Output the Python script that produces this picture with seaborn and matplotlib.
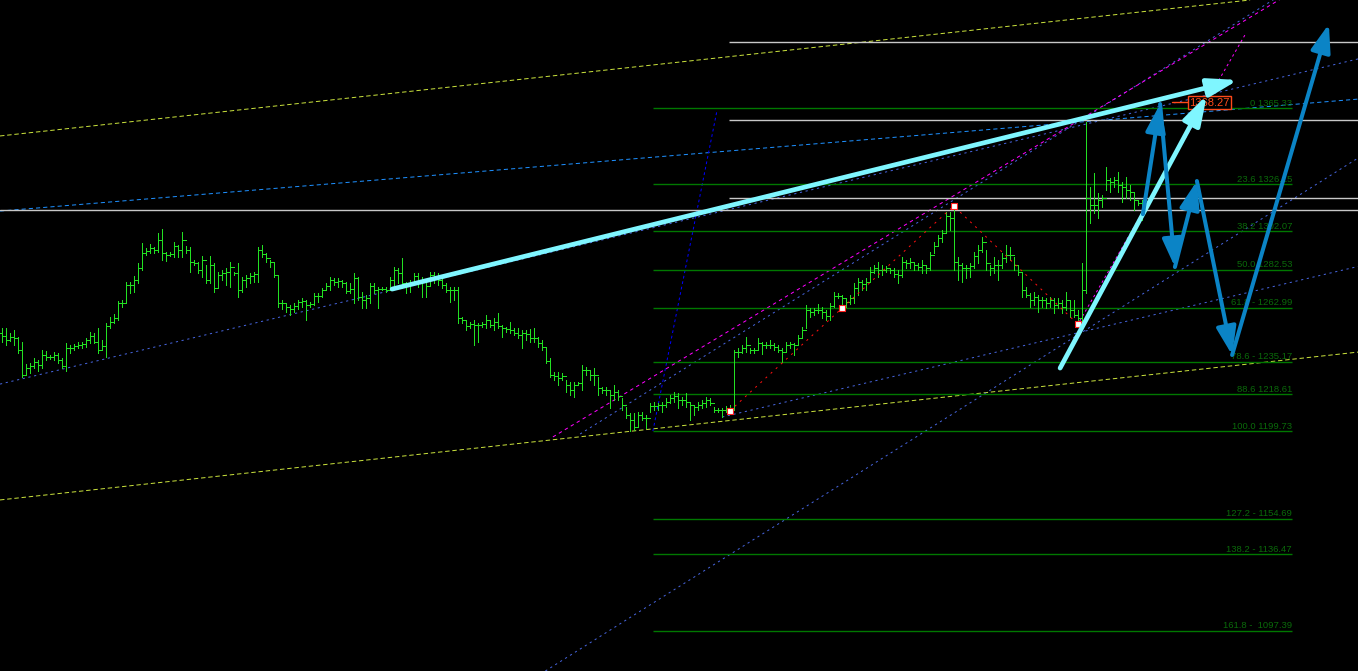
import matplotlib
matplotlib.use("Agg")
import matplotlib.pyplot as plt
import seaborn as sns
import numpy as np
import pandas as pd

# 価格データ (バーごとの高値・安値・終値)
highs = [
    1252.5, 1252.5, 1250.0, 1251.5, 1247.9, 1245.4, 1234.1, 1234.6, 1237.1, 1236.1,
    1241.3, 1240.7, 1238.7, 1240.2, 1239.7, 1237.1, 1244.9, 1243.8, 1244.3, 1245.4,
    1245.4, 1247.4, 1250.5, 1250.0, 1252.5, 1246.4, 1255.1, 1258.2, 1259.7, 1266.4,
    1266.9, 1276.1, 1276.1, 1279.2, 1285.9, 1296.1, 1293.5, 1295.6, 1294.1, 1301.2,
    1303.3, 1291.5, 1291.5, 1296.6, 1295.1, 1301.8, 1294.6, 1294.1, 1287.4, 1286.4,
    1289.4, 1284.8, 1289.4, 1285.9, 1281.2, 1282.3, 1283.3, 1286.4, 1281.2, 1285.9,
    1278.7, 1279.7, 1280.7, 1281.2, 1294.1, 1295.1, 1291.0, 1287.4, 1286.4, 1279.7,
    1266.9, 1265.4, 1264.3, 1265.4, 1266.9, 1267.9, 1266.9, 1265.9, 1270.5, 1270.5,
    1273.1, 1275.6, 1278.7, 1278.2, 1278.2, 1277.1, 1276.1, 1275.6, 1280.7, 1278.7,
    1271.0, 1269.4, 1275.6, 1275.6, 1273.6, 1273.6, 1273.6, 1278.7, 1283.8, 1283.3,
    1288.4, 1276.1, 1277.1, 1280.7, 1280.7, 1278.7, 1275.6, 1281.2, 1281.2, 1280.7,
    1278.7, 1275.6, 1273.6, 1273.6, 1273.6, 1258.2, 1256.6, 1255.6, 1256.6, 1255.1,
    1255.6, 1259.2, 1256.6, 1257.7, 1260.2, 1254.1, 1253.1, 1255.6, 1252.5, 1252.5,
    1251.5, 1251.5, 1252.0, 1252.5, 1247.9, 1246.4, 1242.8, 1237.1, 1230.0, 1230.0,
    1229.5, 1225.9, 1224.9, 1224.9, 1224.9, 1233.6, 1232.5, 1231.0, 1232.0, 1227.4,
    1222.3, 1222.3, 1220.7, 1223.3, 1220.7, 1216.6, 1212.0, 1208.9, 1208.9, 1209.5,
    1209.5, 1207.9, 1214.1, 1214.6, 1214.1, 1214.6, 1216.6, 1218.2, 1219.7, 1219.2,
    1217.1, 1219.2, 1214.6, 1213.1, 1214.6, 1215.6, 1217.1, 1216.6, 1212.0, 1211.5,
    1211.5, 1212.6, 1213.1, 1241.3, 1242.3, 1243.8, 1247.9, 1242.3, 1242.3, 1247.4,
    1245.4, 1245.4, 1246.4, 1244.9, 1243.8, 1242.3, 1245.4, 1245.4, 1244.9, 1248.9,
    1253.1, 1264.3, 1262.8, 1262.8, 1264.9, 1263.3, 1261.8, 1265.4, 1271.0, 1270.5,
    1269.4, 1267.9, 1269.4, 1275.6, 1278.2, 1277.1, 1278.2, 1283.8, 1284.8, 1286.4,
    1284.8, 1284.3, 1283.3, 1283.3, 1282.3, 1288.9, 1287.4, 1288.4, 1286.4, 1285.9,
    1287.4, 1284.8, 1291.5, 1296.6, 1300.2, 1302.8, 1312.0, 1312.0, 1314.6, 1288.9,
    1285.9, 1284.8, 1285.9, 1291.5, 1295.1, 1299.2, 1292.5, 1284.8, 1288.9, 1287.4,
    1291.0, 1295.1, 1294.1, 1288.9, 1284.8, 1280.7, 1273.6, 1270.5, 1271.0, 1269.4,
    1268.4, 1267.9, 1268.4, 1267.9, 1267.9, 1266.9, 1271.0, 1266.9, 1266.9, 1261.8,
    1285.9, 1358.1, 1324.8, 1332.0, 1321.7, 1320.7, 1335.1, 1329.4, 1329.9, 1332.5,
    1327.4, 1329.9, 1325.9, 1322.3, 1318.2, 1318.2,
]
lows = [
    1245.4, 1243.8, 1245.9, 1243.8, 1239.7, 1227.4, 1228.4, 1229.5, 1232.0, 1230.5,
    1232.0, 1236.1, 1236.6, 1236.1, 1234.6, 1232.0, 1230.5, 1239.7, 1241.3, 1242.3,
    1242.3, 1242.8, 1244.9, 1244.9, 1239.7, 1241.3, 1237.7, 1252.5, 1255.1, 1256.6,
    1263.3, 1265.4, 1270.5, 1271.0, 1275.6, 1282.3, 1290.0, 1291.0, 1291.0, 1291.5,
    1287.4, 1286.9, 1289.4, 1288.9, 1288.9, 1288.9, 1291.0, 1281.2, 1284.8, 1280.7,
    1278.7, 1275.6, 1275.6, 1271.0, 1273.1, 1277.1, 1274.6, 1273.6, 1279.7, 1268.4,
    1271.0, 1273.6, 1275.6, 1276.1, 1276.1, 1288.9, 1286.4, 1283.8, 1278.7, 1263.3,
    1262.3, 1260.7, 1259.2, 1260.7, 1262.3, 1263.3, 1256.6, 1263.3, 1264.3, 1265.9,
    1268.4, 1272.0, 1272.0, 1274.6, 1273.6, 1273.6, 1270.5, 1270.5, 1265.4, 1266.9,
    1262.8, 1262.8, 1265.4, 1270.5, 1262.8, 1272.0, 1271.0, 1272.0, 1274.6, 1275.6,
    1273.1, 1270.5, 1271.0, 1275.6, 1273.6, 1268.4, 1268.4, 1274.6, 1275.6, 1274.6,
    1273.1, 1271.0, 1265.9, 1266.9, 1255.1, 1255.1, 1251.5, 1252.5, 1243.8, 1245.4,
    1253.1, 1252.5, 1253.1, 1251.5, 1252.5, 1247.9, 1250.5, 1250.0, 1248.9, 1247.4,
    1242.3, 1246.4, 1245.4, 1245.4, 1242.8, 1241.3, 1234.6, 1227.4, 1225.9, 1223.3,
    1225.9, 1219.7, 1218.2, 1217.1, 1223.3, 1220.7, 1228.4, 1225.9, 1223.3, 1218.2,
    1219.2, 1218.2, 1211.5, 1215.6, 1215.6, 1210.5, 1206.4, 1199.73, 1200.5, 1201.8,
    1205.4, 1201.3, 1209.5, 1210.5, 1210.5, 1209.5, 1212.0, 1214.1, 1214.6, 1211.5,
    1213.1, 1212.0, 1205.4, 1207.9, 1210.5, 1211.5, 1212.0, 1213.1, 1209.5, 1209.5,
    1206.9, 1209.5, 1210.0, 1210.5, 1237.7, 1239.7, 1240.2, 1239.7, 1239.7, 1241.3,
    1239.2, 1242.3, 1242.3, 1241.3, 1240.2, 1235.1, 1240.2, 1242.3, 1238.7, 1243.8,
    1247.9, 1252.5, 1258.2, 1259.2, 1260.2, 1257.7, 1256.6, 1256.6, 1263.3, 1267.9,
    1261.8, 1263.3, 1264.9, 1265.4, 1269.4, 1272.0, 1272.0, 1276.1, 1280.7, 1278.7,
    1279.7, 1281.2, 1280.7, 1278.7, 1275.6, 1278.7, 1283.3, 1283.3, 1282.3, 1282.3,
    1280.7, 1280.7, 1282.3, 1291.0, 1295.1, 1296.6, 1301.8, 1302.8, 1282.3, 1277.1,
    1276.1, 1278.2, 1278.7, 1283.3, 1285.9, 1291.5, 1282.3, 1279.7, 1280.7, 1277.1,
    1283.3, 1286.4, 1287.4, 1282.3, 1279.7, 1268.4, 1268.4, 1263.3, 1264.3, 1260.7,
    1263.3, 1262.8, 1263.3, 1260.2, 1262.8, 1260.2, 1261.8, 1258.2, 1258.2, 1254.6,
    1253.1, 1270.5, 1306.4, 1311.5, 1308.9, 1314.6, 1323.3, 1322.3, 1324.8, 1322.3,
    1317.1, 1319.2, 1318.2, 1313.0, 1315.6, 1307.9,
]
closes = [
    1248.4, 1246.4, 1247.9, 1247.4, 1241.3, 1228.4, 1232.0, 1233.1, 1235.1, 1233.6,
    1238.7, 1237.7, 1237.7, 1238.7, 1236.1, 1233.1, 1242.3, 1242.3, 1243.3, 1243.8,
    1244.3, 1246.4, 1248.4, 1245.4, 1241.3, 1243.3, 1253.6, 1255.6, 1257.7, 1265.4,
    1265.4, 1274.6, 1274.6, 1277.1, 1283.3, 1291.0, 1292.0, 1293.5, 1292.5, 1297.7,
    1291.0, 1290.0, 1290.5, 1294.6, 1292.5, 1297.7, 1292.5, 1286.4, 1285.9, 1282.3,
    1287.4, 1277.1, 1284.8, 1273.1, 1279.7, 1280.7, 1281.2, 1283.8, 1280.7, 1272.0,
    1277.1, 1278.2, 1279.2, 1280.2, 1292.5, 1290.5, 1288.4, 1286.4, 1279.7, 1265.4,
    1265.4, 1263.3, 1262.3, 1263.8, 1265.9, 1266.4, 1264.3, 1264.9, 1268.9, 1268.9,
    1272.0, 1274.1, 1277.1, 1276.1, 1276.6, 1275.6, 1271.5, 1272.5, 1278.2, 1268.4,
    1266.9, 1267.9, 1274.1, 1272.0, 1272.5, 1272.5, 1272.0, 1277.1, 1282.3, 1280.7,
    1275.6, 1274.6, 1275.6, 1279.2, 1275.6, 1276.1, 1274.1, 1279.7, 1278.7, 1277.1,
    1274.6, 1272.0, 1272.0, 1272.0, 1257.7, 1256.6, 1253.6, 1254.6, 1254.1, 1254.1,
    1254.6, 1256.6, 1254.1, 1255.6, 1253.6, 1252.5, 1252.0, 1251.5, 1250.0, 1248.9,
    1250.0, 1249.5, 1247.4, 1247.4, 1244.9, 1242.8, 1235.6, 1228.4, 1227.9, 1226.9,
    1227.9, 1223.3, 1220.7, 1223.3, 1224.3, 1231.0, 1231.0, 1228.4, 1228.4, 1221.8,
    1220.7, 1220.7, 1218.2, 1219.7, 1217.7, 1213.1, 1207.9, 1205.4, 1201.8, 1207.9,
    1206.4, 1206.4, 1212.6, 1212.6, 1213.1, 1213.1, 1214.6, 1216.6, 1217.7, 1215.6,
    1215.6, 1214.6, 1213.1, 1212.0, 1213.1, 1214.1, 1215.6, 1214.1, 1210.5, 1210.5,
    1210.5, 1210.5, 1211.0, 1240.2, 1240.2, 1242.3, 1243.8, 1241.3, 1241.3, 1244.9,
    1243.8, 1243.8, 1243.8, 1242.8, 1241.3, 1240.2, 1243.8, 1244.3, 1243.8, 1247.4,
    1251.5, 1261.8, 1260.7, 1261.8, 1261.8, 1260.7, 1258.7, 1263.8, 1268.9, 1268.9,
    1267.9, 1265.9, 1267.9, 1273.1, 1276.1, 1275.1, 1276.1, 1281.2, 1283.3, 1282.3,
    1282.3, 1283.3, 1282.3, 1280.2, 1279.7, 1286.4, 1285.9, 1286.4, 1284.8, 1283.8,
    1284.8, 1283.3, 1290.0, 1294.6, 1298.7, 1301.2, 1309.9, 1308.9, 1286.4, 1284.8,
    1283.3, 1283.3, 1284.3, 1289.4, 1292.5, 1296.6, 1285.9, 1283.3, 1284.8, 1284.8,
    1288.4, 1290.0, 1290.0, 1284.8, 1281.2, 1272.0, 1269.4, 1266.9, 1268.4, 1266.9,
    1266.9, 1265.4, 1266.9, 1264.3, 1265.4, 1263.3, 1266.9, 1261.8, 1259.2, 1257.7,
    1272.0, 1319.2, 1315.6, 1315.6, 1318.2, 1319.2, 1328.4, 1327.4, 1328.4, 1325.9,
    1324.8, 1323.3, 1322.3, 1318.2, 1316.6, 1313.0,
]
first_open = 1250.0

# フィボナッチ
fib_prices = [1365.33, 1326.15, 1302.07, 1282.53, 1262.99, 1235.17,
              1218.61, 1199.73, 1154.69, 1136.47, 1097.39]
fib_labels = ["0 1365.33", "23.6 1326.15", "38.2 1302.07", "50.0 1282.53",
              "61.8 - 1262.99", "78.6 - 1235.17", "88.6 1218.61", "100.0 1199.73",
              "127.2 - 1154.69", "138.2 - 1136.47", "161.8 -  1097.39"]
fib_from, fib_to = 162.8, 322.6

# 水平線
hline_prices = [1399.2, 1359.2, 1319.2]
hline_from = 181.8
hline_full_price = 1313.0

# トレンドライン (バー番号, 価格)
yellow_lines = [((-0.4, 1351.0), (312.1, 1420.7)),
                ((-0.4, 1164.4), (339.1, 1240.2))]
dodger_line = ((-0.4, 1312.5), (339.1, 1369.9))
royal_lines = [((-0.4, 1223.8), (339.1, 1390.5)),
               ((136.3, 1077.2), (339.1, 1339.7))]
royal_rays = [((180.1, 1206.9), (339.1, 1284.1)),
              ((144.6, 1198.2), (317.8, 1420.7))]
magenta_ray = ((137.8, 1196.7), (319.3, 1420.7))
magenta_seg = ((268.8, 1253.6), (311.1, 1403.8))
darkblue_seg = ((162.8, 1199.7), (178.8, 1363.8))

# ジグザグ
zigzag_bars = [182, 238, 269]
zigzag_prices = [1210.0, 1315.1, 1254.6]
marker_bars = [182, 210, 238, 269]
marker_prices = [1210.0, 1262.8, 1315.1, 1254.6]

# 矢印
cyan_arrows = [((97.6, 1272.5), (309.1, 1379.7)),
               ((264.6, 1232.0), (301.3, 1372.0))]
blue_path_bars = [285.3, 289.6, 293.3, 298.8, 307.6, 331.8]
blue_path_prices = [1310.9, 1367.4, 1283.8, 1327.9, 1238.7, 1408.4]

price_tag = "1368.27"
price_tag_bar, price_tag_price = 301.9, 1368.1

XMIN, XMAX = -0.425, 339.075
YMIN, YMAX = 1076.7, 1420.7

sns.set_theme(style="dark", rc={"axes.facecolor": "black", "figure.facecolor": "black"})
plt.rcParams["font.family"] = ["Liberation Sans", "DejaVu Sans"]
plt.rcParams["lines.scale_dashes"] = False

fig = plt.figure(figsize=(13.58, 6.71), dpi=100)
ax = fig.add_axes([0, 0, 1, 1])
ax.set_facecolor("black")
ax.set_xlim(XMIN, XMAX)
ax.set_ylim(YMIN, YMAX)
ax.axis("off")

PX = 0.72


def ray(p, q, **kw):
    slope = (q[1] - p[1]) / (q[0] - p[0])
    ax.plot([p[0], XMAX], [p[1], p[1] + slope * (XMAX - p[0])], **kw)


# 線
for p, q in yellow_lines:
    ax.axline(p, q, color="#c8e03c", lw=PX, ls=(0, (3.2, 2.0)), zorder=2)
ax.axline(*dodger_line, color="#1e90ff", lw=PX, ls=(0, (3.0, 2.2)), zorder=2)
for p, q in royal_lines:
    ax.axline(p, q, color="#4664dc", lw=PX, ls=(0, (1.6, 2.6)), zorder=2)
for p, q in royal_rays:
    ray(p, q, color="#4664dc", lw=PX, ls=(0, (1.6, 2.6)), zorder=2)
ray(*magenta_ray, color="#ff00ff", lw=PX, ls=(0, (2.5, 2.5)), zorder=2)
ax.plot(*zip(*magenta_seg), color="#ff00ff", lw=PX, ls=(0, (1.8, 2.2)), zorder=2)
ax.plot(*zip(*darkblue_seg), color="#0000ff", lw=PX, ls=(0, (2.0, 2.0)), zorder=2)

ax.hlines(hline_prices, hline_from, XMAX, color="#c8c8c8", lw=1.0, zorder=2)
ax.axhline(hline_full_price, color="#c8c8c8", lw=1.0, zorder=2)

# フィボナッチ
ax.hlines(fib_prices, fib_from, fib_to, color="#007800", lw=1.0, zorder=2)
for price, label in zip(fib_prices, fib_labels):
    ax.annotate(label, (fib_to, price), xytext=(0, 0.3), textcoords="offset points",
                ha="right", va="bottom", color="#0a6a0a", fontsize=6.8, zorder=3)

# バー
x = np.arange(len(highs))
opens = [first_open] + closes[:-1]
ax.vlines(x, lows, highs, color="#22e022", lw=PX, antialiased=False, zorder=4)
ax.hlines(opens, x - 0.5, x, color="#22e022", lw=PX, antialiased=False, zorder=4)
ax.hlines(closes, x, x + 0.5, color="#22e022", lw=PX, antialiased=False, zorder=4)

# ジグザグ
zz = pd.DataFrame({"bar": zigzag_bars, "price": zigzag_prices})
sns.lineplot(data=zz, x="bar", y="price", ax=ax, color="#ff1010", lw=PX,
             dashes=False, ls=(0, (1.5, 3.5)), zorder=5)
mk = pd.DataFrame({"bar": marker_bars, "price": marker_prices})
sns.scatterplot(data=mk, x="bar", y="price", ax=ax, marker="s", s=14,
                color="white", edgecolor="#ff2020", linewidth=0.8, zorder=6)
ax.set_xlim(XMIN, XMAX)
ax.set_ylim(YMIN, YMAX)

# 価格ラベル
ax.plot([price_tag_bar - 9.3, price_tag_bar - 5.1], [1368.27, 1368.27],
        color="#ff4a1a", lw=1.0, zorder=6)
ax.text(price_tag_bar, price_tag_price, price_tag, ha="center", va="center",
        color="#ff4a1a", fontsize=8,
        bbox=dict(boxstyle="square,pad=0.12", fc="black", ec="#ff4a1a", lw=1.0),
        zorder=6)

# 矢印
for start, end in cyan_arrows:
    ax.annotate("", xy=end, xytext=start, zorder=8,
                arrowprops=dict(arrowstyle="-|>,head_length=1.8,head_width=0.55",
                                color="#7ff6ff", lw=3.4, shrinkA=0, shrinkB=0,
                                mutation_scale=10))
for i in range(len(blue_path_bars) - 1):
    ax.annotate("", xy=(blue_path_bars[i + 1], blue_path_prices[i + 1]),
                xytext=(blue_path_bars[i], blue_path_prices[i]), zorder=8,
                arrowprops=dict(arrowstyle="-|>,head_length=1.7,head_width=0.6",
                                color="#0b84c6", lw=2.9, shrinkA=0, shrinkB=0,
                                mutation_scale=10))

fig.savefig("out.png", dpi=100, facecolor="black")
